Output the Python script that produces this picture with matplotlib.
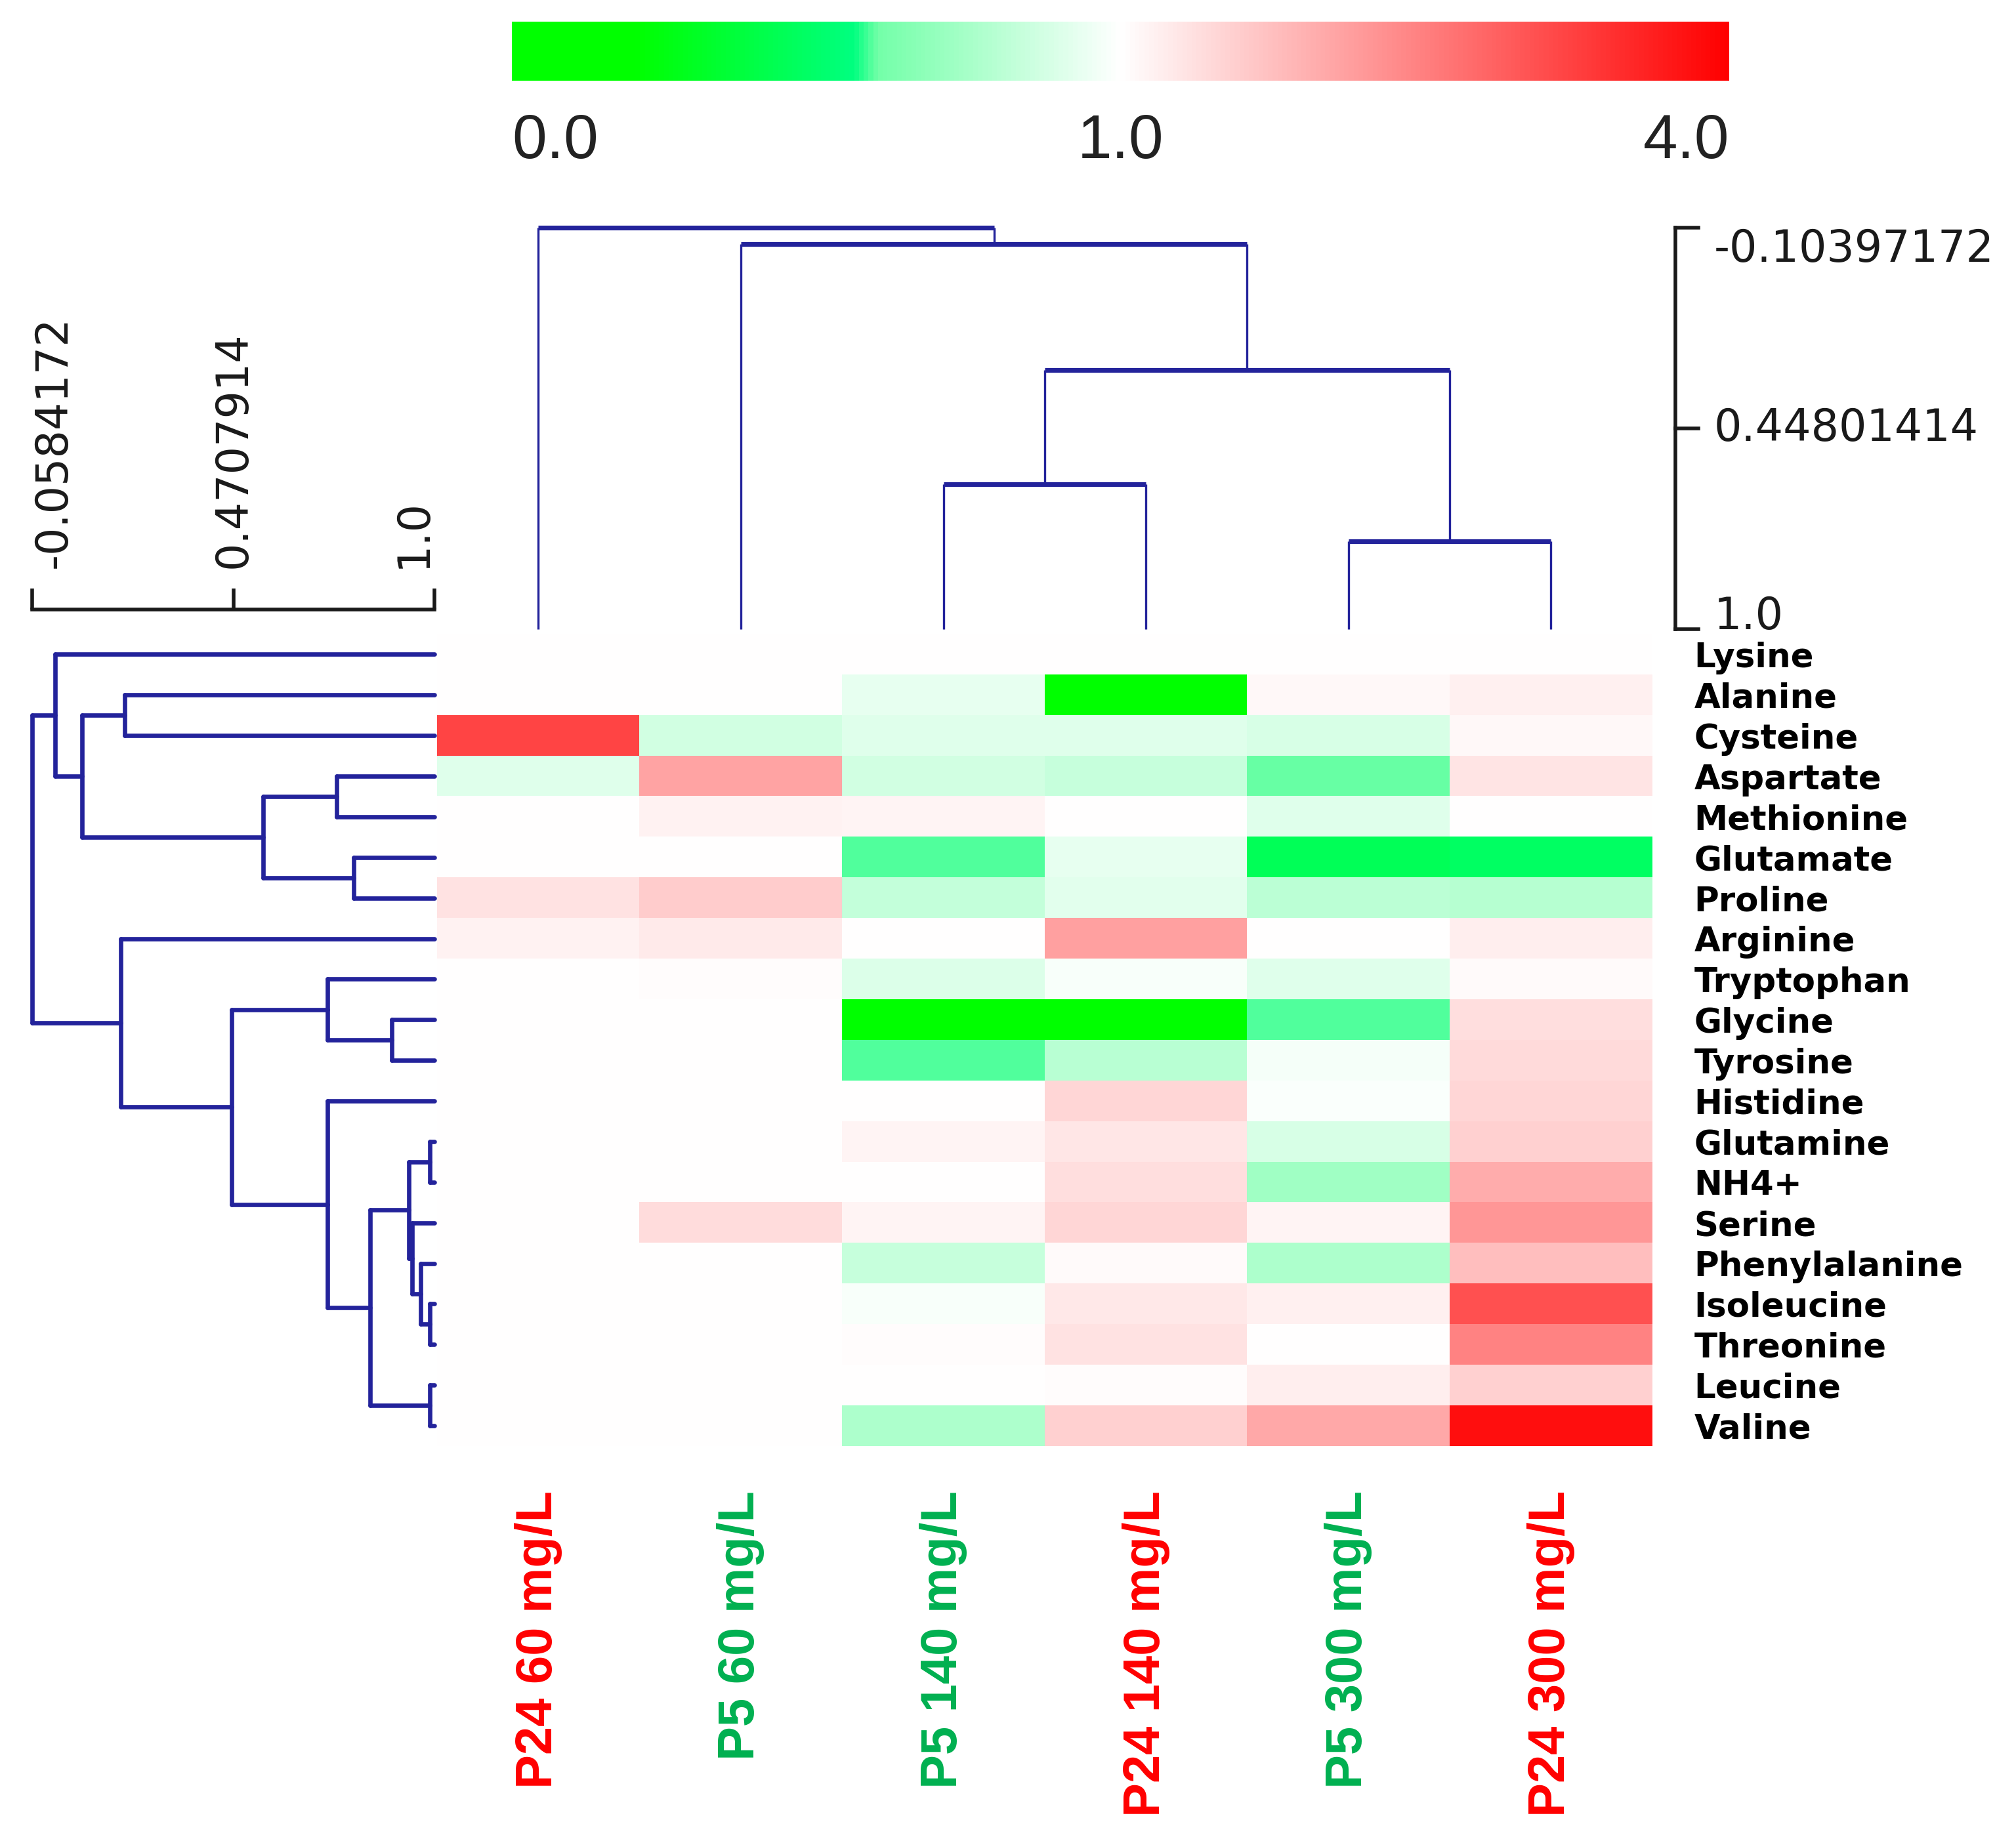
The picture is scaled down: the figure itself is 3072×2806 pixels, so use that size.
import numpy as np
import matplotlib
matplotlib.use("Agg")
import matplotlib.pyplot as plt
from matplotlib.colors import LinearSegmentedColormap, TwoSlopeNorm
from matplotlib.cm import ScalarMappable
from matplotlib.collections import LineCollection
import matplotlib.transforms as mtransforms

# ---------------- data ----------------
amino_acids = ["Lysine", "Alanine", "Cysteine", "Aspartate", "Methionine",
               "Glutamate", "Proline", "Arginine", "Tryptophan", "Glycine",
               "Tyrosine", "Histidine", "Glutamine", "NH4+", "Serine",
               "Phenylalanine", "Isoleucine", "Threonine", "Leucine", "Valine"]
samples = ["P24 60 mg/L", "P5 60 mg/L", "P5 140 mg/L",
           "P24 140 mg/L", "P5 300 mg/L", "P24 300 mg/L"]
sample_colors = ["#ff0000", "#00b050", "#00b050", "#ff0000", "#00b050", "#ff0000"]

# fold change relative to control (rows = amino acids, cols = samples)
fold_change = np.array([
    [1.00, 1.00, 1.00, 1.00, 1.00, 1.00],   # Lysine
    [1.00, 1.00, 0.93, 0.15, 1.08, 1.18],   # Alanine
    [3.18, 0.87, 0.91, 0.91, 0.89, 1.08],   # Cysteine
    [0.91, 2.06, 0.87, 0.84, 0.595, 1.32],  # Aspartate
    [1.00, 1.15, 1.12, 1.00, 0.91, 1.00],   # Methionine
    [1.00, 1.00, 0.59, 0.93, 0.45, 0.48],   # Glutamate
    [1.35, 1.59, 0.83, 0.92, 0.81, 0.79],   # Proline
    [1.15, 1.24, 1.02, 2.12, 1.00, 1.21],   # Arginine
    [1.00, 1.03, 0.90, 0.98, 0.91, 1.07],   # Tryptophan
    [1.00, 1.00, 0.15, 0.15, 0.588, 1.39],  # Glycine
    [1.00, 1.00, 0.59, 0.80, 0.97, 1.44],   # Tyrosine
    [1.00, 1.00, 1.00, 1.47, 0.986, 1.47],  # Histidine
    [1.00, 1.00, 1.12, 1.29, 0.886, 1.55],  # Glutamine
    [1.00, 1.00, 1.00, 1.39, 0.73, 1.98],   # NH4+
    [1.00, 1.41, 1.12, 1.47, 1.12, 2.24],   # Serine
    [1.00, 1.00, 0.84, 1.06, 0.77, 1.76],   # Phenylalanine
    [1.00, 1.00, 0.98, 1.27, 1.18, 3.06],   # Isoleucine
    [1.00, 1.00, 1.04, 1.35, 1.02, 2.47],   # Threonine
    [1.00, 1.00, 1.00, 1.04, 1.20, 1.55],   # Leucine
    [1.00, 1.00, 0.77, 1.55, 2.02, 3.82],   # Valine
])

# hierarchical clustering merges: (child_a, child_b, similarity); leaves first, new ids appended
row_merges = [
    (12, 13, 0.988), (16, 17, 0.988), (18, 19, 0.988),
    (15, 21, 0.964), (14, 23, 0.941), (20, 24, 0.933),
    (9, 10, 0.888), (25, 22, 0.830), (5, 6, 0.787),
    (3, 4, 0.743), (8, 26, 0.719), (11, 27, 0.719),
    (29, 28, 0.550), (30, 31, 0.466), (1, 2, 0.185),
    (7, 33, 0.175), (34, 32, 0.073), (0, 36, 0.0025),
    (37, 35, -0.0584172),
]
col_merges = [
    (2, 3, 0.601), (4, 5, 0.757), (6, 7, 0.2865),
    (1, 8, -0.060), (0, 9, -0.10397172),
]
row_scale_ticks = [-0.0584172, 0.4707914, 1.0]
row_scale_labels = ["-0.0584172", "0.4707914", "1.0"]
col_scale_ticks = [-0.10397172, 0.44801414, 1.0]
col_scale_labels = ["-0.10397172", "0.44801414", "1.0"]
cbar_ticks = [0.0, 1.0, 4.0]
cbar_labels = ["0.0", "1.0", "4.0"]

# ---------------- style ----------------
W, H = 1568.0, 1432.0
def rect(x0, y0, x1, y1):
    return [x0 / W, 1 - y1 / H, (x1 - x0) / W, (y1 - y0) / H]

cmap = LinearSegmentedColormap.from_list("gw_r", [
    (0.00, (0.0, 1.0, 0.0)),
    (0.10, (0.0, 1.0, 0.0)),
    (0.28, (0.0, 1.0, 0.5)),
    (0.30, (0.45, 1.0, 0.66)),
    (0.50, (1.0, 1.0, 1.0)),
    (1.00, (1.0, 0.0, 0.0)),
])
norm = TwoSlopeNorm(vmin=0.0, vcenter=1.0, vmax=4.0)
dcol = "#23239b"
arial = ["Liberation Sans", "Arial", "DejaVu Sans"]

fig = plt.figure(figsize=(15.36, 14.03), dpi=200)

def dendro(merges, n_leaves):
    pos = {i: float(i) for i in range(n_leaves)}
    hgt = {i: 1.0 for i in range(n_leaves)}
    legs, bars = [], []
    for k, (a, b, h) in enumerate(merges):
        legs.append(((pos[a], hgt[a]), (pos[a], h)))
        legs.append(((pos[b], hgt[b]), (pos[b], h)))
        bars.append(((pos[a], h), (pos[b], h)))
        pos[n_leaves + k] = (pos[a] + pos[b]) / 2
        hgt[n_leaves + k] = h
    return legs, bars

def clean(ax):
    for s in ax.spines.values():
        s.set_visible(False)
    ax.set_xticks([])
    ax.set_yticks([])

# ---------------- heatmap ----------------
ax = fig.add_axes(rect(340, 493.2, 1285, 1124.8))
ax.imshow(fold_change, cmap=cmap, norm=norm, aspect="auto", interpolation="nearest")
for s in ax.spines.values():
    s.set_visible(False)
ax.yaxis.tick_right()
ax.set_yticks(range(len(amino_acids)))
ax.set_yticklabels(amino_acids, fontfamily="DejaVu Sans", fontweight="bold", fontsize=18.5)
ax.set_xticks(range(len(samples)))
ax.set_xticklabels(samples, rotation=90, fontfamily=arial,
                   fontweight="bold", fontsize=28)
for lbl, c in zip(ax.get_xticklabels(), sample_colors):
    lbl.set_color(c)
ax.tick_params(axis="y", length=0, pad=23)
ax.tick_params(axis="x", length=0, pad=24.5)

# ---------------- left (row) dendrogram ----------------
axl = fig.add_axes(rect(25, 493.2, 338, 1124.8))
legs, bars = dendro(row_merges, len(amino_acids))
segs = [[(p[1], p[0]), (q[1], q[0])] for p, q in legs + bars]
lc = LineCollection(segs, colors=dcol, linewidths=2.4, capstyle="round", joinstyle="round")
lc.set_clip_on(False)
axl.add_collection(lc)
axl.set_xlim(row_scale_ticks[0], 1.0)
axl.set_ylim(len(amino_acids) - 0.5, -0.5)
clean(axl)

# left scale bar
axls = fig.add_axes(rect(25, 240, 338, 480))
axls.set_xlim(row_scale_ticks[0], 1.0)
axls.set_ylim(0, 1)
clean(axls)
yb, yt, ylab = 0.025, 0.092, 0.158
axls.plot([row_scale_ticks[0], row_scale_ticks[-1]], [yb, yb], color="#1a1a1a", lw=2.0,
          solid_capstyle="projecting", clip_on=False)
for t in row_scale_ticks:
    axls.plot([t, t], [yb, yt], color="#1a1a1a", lw=2.0, solid_capstyle="butt", clip_on=False)
for t, ha, txt in zip(row_scale_ticks, ["left", "center", "right"], row_scale_labels):
    axls.text(t, ylab, txt, rotation=90, ha=ha, va="bottom",
              fontsize=24, fontfamily="DejaVu Sans", color="#1a1a1a")

# ---------------- top (column) dendrogram ----------------
axt = fig.add_axes(rect(340, 177.3, 1285, 489.6))
legs, bars = dendro(col_merges, len(samples))
lc1 = LineCollection([list(s) for s in legs], colors=dcol, linewidths=1.2)
lc2 = LineCollection([list(s) for s in bars], colors=dcol, linewidths=2.6, capstyle="butt")
for c in (lc1, lc2):
    c.set_clip_on(False)
    axt.add_collection(c)
axt.set_xlim(-0.5, len(samples) - 0.5)
axt.set_ylim(1.0, col_scale_ticks[0])
clean(axt)

# right scale bar
axrs = fig.add_axes(rect(1303, 177.3, 1568, 489.6))
axrs.set_xlim(0, 1)
axrs.set_ylim(1.0, col_scale_ticks[0])
clean(axrs)
axrs.plot([0, 0], [col_scale_ticks[0], col_scale_ticks[-1]], color="#1a1a1a", lw=2.0, clip_on=False)
for t in col_scale_ticks:
    axrs.plot([0, 0.068], [t, t], color="#1a1a1a", lw=2.0, clip_on=False)
for t, va, txt in zip(col_scale_ticks, ["top", "center", "baseline"], col_scale_labels):
    axrs.text(0.113, t, txt, ha="left", va=va, fontsize=24,
              fontfamily="DejaVu Sans", color="#1a1a1a")

# ---------------- colorbar ----------------
cax = fig.add_axes(rect(398, 17, 1345, 63))
cb = fig.colorbar(ScalarMappable(norm=norm, cmap=cmap), cax=cax, orientation="horizontal")
cb.outline.set_visible(False)
cb.set_ticks([])
trans = mtransforms.blended_transform_factory(cax.transData, cax.transAxes)
for t, ha, txt in zip(cbar_ticks, ["left", "center", "right"], cbar_labels):
    cax.text(t, -1.30, txt, transform=trans, ha=ha, va="baseline",
             fontsize=34, fontfamily=arial, color="#222222")

fig.savefig("out.png", dpi=200)
